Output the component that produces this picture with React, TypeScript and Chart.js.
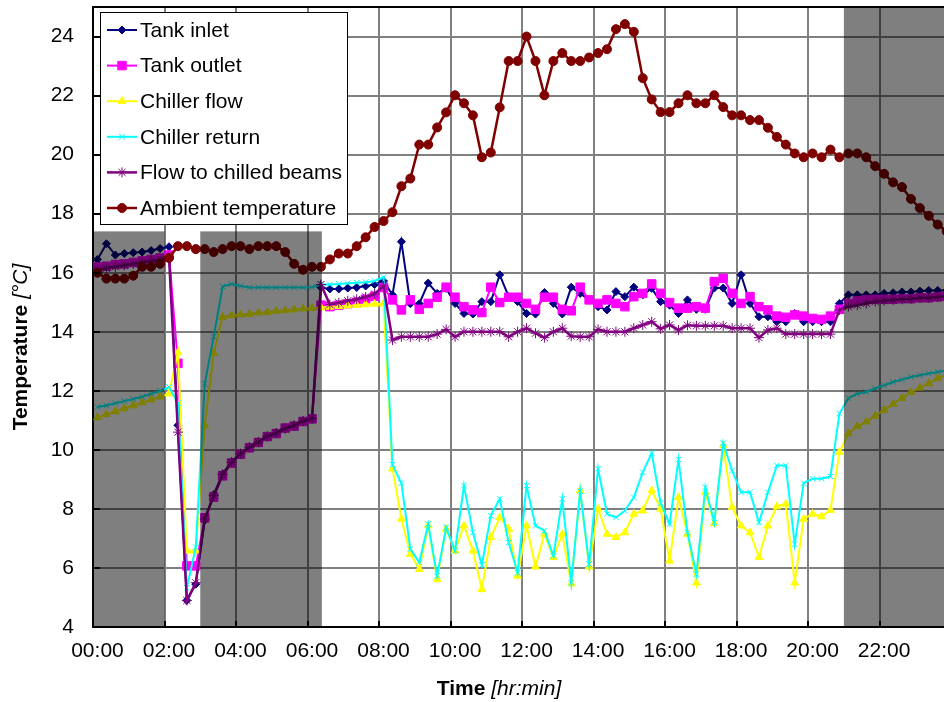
import { useEffect, useRef } from 'react';
import { Chart, registerables } from 'chart.js';
import { drawPoint } from 'chart.js/helpers';

Chart.register(...registerables);

// ---- axis labels / ticks ----
const hourLabels = ['00:00', '02:00', '04:00', '06:00', '08:00', '10:00', '12:00', '14:00', '16:00', '18:00', '20:00', '22:00'];
const gridHours = [0, 2, 4, 6, 8, 10, 12, 14, 16, 18, 20, 22];
const yTicks = [4, 6, 8, 10, 12, 14, 16, 18, 20, 22, 24];

// ---- series: one reading every 15 minutes, 00:00 .. 23:45 ----
const tankInlet = [
  16.45, 16.98, 16.6, 16.65, 16.68, 16.7, 16.75, 16.82, 16.88, 10.83, 4.9, 5.45,
  7.62, 8.48, 9.18, 9.6, 9.88, 10.1, 10.28, 10.46, 10.58, 10.72, 10.84, 10.97,
  11.04, 15.5, 15.45, 15.45, 15.48, 15.5, 15.55, 15.6, 15.72, 15.25, 17.05, 14.95,
  14.95, 15.65, 15.3, 15.47, 14.96, 14.62, 14.6, 15.02, 15.02, 15.93, 15.19, 15.02,
  14.62, 14.6, 15.33, 14.96, 14.6, 15.51, 15.3, 15.08, 14.85, 14.74, 15.36, 15.19,
  15.51, 15.25, 15.47, 15.02, 14.9, 14.62, 15.08, 14.76, 14.76, 15.48, 15.48, 14.96,
  15.93, 14.96, 14.51, 14.51, 14.34, 14.34, 14.62, 14.34, 14.34, 14.34, 14.34, 14.96,
  15.25, 15.25, 15.25, 15.25, 15.3, 15.32, 15.35, 15.35, 15.38, 15.4, 15.4, 15.4,
];
const tankOutlet = [
  16.2, 16.22, 16.28, 16.3, 16.35, 16.4, 16.45, 16.5, 16.6, 12.93, 6.07, 6.07,
  7.7, 8.4, 9.12, 9.55, 9.85, 10.07, 10.25, 10.45, 10.55, 10.74, 10.8, 10.96,
  11.05, 14.9, 14.85, 14.9, 14.95, 15.0, 15.1, 15.2, 15.5, 15.08, 14.74, 15.08,
  14.76, 14.96, 15.17, 15.51, 15.17, 14.85, 14.74, 14.65, 15.51, 14.99, 15.17, 15.17,
  14.96, 14.76, 15.17, 15.17, 14.76, 14.71, 15.51, 15.08, 14.96, 15.08, 14.96, 14.85,
  15.19, 15.3, 15.62, 15.3, 14.99, 14.8, 14.8, 14.85, 14.8, 15.7, 15.81, 15.3,
  14.96, 15.19, 14.85, 14.74, 14.53, 14.49, 14.57, 14.53, 14.45, 14.42, 14.53, 14.76,
  14.96, 15.05, 15.08, 15.1, 15.1, 15.1, 15.12, 15.12, 15.15, 15.15, 15.18, 15.2,
];
const chillerFlow = [
  11.1, 11.2, 11.3, 11.4, 11.5, 11.6, 11.7, 11.8, 11.9, 13.3, 6.58, 6.58,
  10.83, 13.27, 14.5, 14.55, 14.58, 14.6, 14.64, 14.66, 14.7, 14.72, 14.75, 14.78,
  14.8, 14.82, 14.84, 14.86, 14.88, 14.9, 14.92, 14.94, 14.95, 9.36, 7.66, 6.47,
  5.96, 7.43, 5.62, 7.32, 6.58, 7.43, 6.58, 5.28, 7.04, 7.71, 7.32, 5.73,
  7.43, 6.04, 7.15, 6.36, 7.15, 5.47, 8.62, 6.04, 8.0, 7.15, 7.04, 7.2,
  7.83, 7.94, 8.62, 8.0, 6.24, 8.39, 7.15, 5.5, 8.56, 7.51, 10.15, 8.06,
  7.43, 7.2, 6.36, 7.43, 8.08, 8.17, 5.5, 7.66, 7.83, 7.74, 7.96, 9.92,
  10.55, 10.8, 10.95, 11.15, 11.35, 11.55, 11.75, 11.95, 12.1, 12.25, 12.42, 12.55,
];
const chillerReturn = [
  11.45, 11.5, 11.58, 11.65, 11.72, 11.8, 11.9, 12.0, 12.13, 11.58, 5.33, 6.7,
  12.24, 13.83, 15.53, 15.62, 15.55, 15.5, 15.5, 15.5, 15.5, 15.5, 15.5, 15.5,
  15.51, 15.6, 15.6, 15.62, 15.64, 15.66, 15.68, 15.72, 15.85, 9.5, 8.87, 6.64,
  6.19, 7.49, 5.73, 7.37, 6.58, 8.79, 7.2, 6.1, 7.77, 8.34, 6.86, 5.84,
  8.79, 7.43, 7.26, 6.41, 8.34, 5.5, 8.6, 6.13, 9.36, 7.83, 7.71, 7.94,
  8.39, 9.24, 9.89, 8.2, 7.49, 9.67, 7.2, 5.79, 8.73, 7.54, 10.23, 9.3,
  8.56, 8.56, 7.54, 8.56, 9.47, 9.47, 6.81, 8.87, 9.02, 9.02, 9.1, 11.23,
  11.75, 11.9, 11.96, 12.08, 12.19, 12.3, 12.38, 12.47, 12.53, 12.59, 12.64, 12.68,
];
const flowToBeams = [
  16.1, 16.15, 16.2, 16.25, 16.3, 16.35, 16.4, 16.45, 16.55, 10.6, 4.9, 5.5,
  7.66, 8.45, 9.17, 9.58, 9.87, 10.09, 10.26, 10.46, 10.57, 10.72, 10.83, 10.98,
  11.06, 15.6, 14.92, 14.98, 15.05, 15.1, 15.18, 15.28, 15.55, 13.72, 13.83, 13.83,
  13.83, 13.83, 13.92, 14.08, 13.83, 14.0, 14.0, 14.0, 14.0, 14.0, 13.83, 14.0,
  14.12, 13.95, 13.8, 14.0, 14.12, 13.85, 13.83, 13.83, 14.08, 14.0, 14.0, 14.0,
  14.12, 14.23, 14.34, 14.1, 14.23, 14.06, 14.22, 14.2, 14.2, 14.2, 14.2, 14.12,
  14.12, 14.12, 13.8, 14.06, 14.12, 13.92, 13.92, 13.92, 13.92, 13.92, 13.92, 14.74,
  14.85, 14.9, 14.96, 15.02, 15.05, 15.08, 15.1, 15.12, 15.15, 15.15, 15.18, 15.2,
];
const ambient = [
  16.0, 15.8, 15.8, 15.8, 15.9, 16.2, 16.2, 16.3, 16.5, 16.9, 16.9, 16.8,
  16.8, 16.7, 16.8, 16.9, 16.9, 16.8, 16.9, 16.9, 16.9, 16.7, 16.3, 16.1,
  16.2, 16.2, 16.45, 16.65, 16.65, 16.9, 17.2, 17.55, 17.75, 18.05, 18.93, 19.19,
  20.34, 20.34, 20.92, 21.43, 22.01, 21.74, 21.33, 19.91, 20.07, 21.6, 23.17, 23.17,
  24.0, 23.17, 22.01, 23.17, 23.44, 23.17, 23.17, 23.29, 23.44, 23.57, 24.25, 24.42,
  24.16, 22.59, 21.87, 21.44, 21.44, 21.74, 22.01, 21.74, 21.74, 22.01, 21.61, 21.33,
  21.33, 21.17, 21.17, 20.91, 20.6, 20.34, 20.04, 19.91, 20.04, 19.91, 20.17, 19.91,
  20.04, 20.04, 19.91, 19.61, 19.35, 19.06, 18.9, 18.5, 18.19, 17.93, 17.63, 17.4,
];

const seriesNames = ['Tank inlet', 'Tank outlet', 'Chiller flow', 'Chiller return', 'Flow to chilled beams', 'Ambient temperature'];
const seriesValues = [tankInlet, tankOutlet, chillerFlow, chillerReturn, flowToBeams, ambient];

// shaded periods (hours) and their top (°C)
const shadeStartHour = [0, 3, 21];
const shadeEndHour = [2, 6.4, 24];
const shadeTopTemp = [17.4, 17.4, 25];

// ---- styles ----
const seriesStyles = [
  { color: '#000080', pointStyle: 'rectRot', radius: 4, lineWidth: 2 },
  { color: '#FF00FF', pointStyle: 'rect', radius: 6, lineWidth: 2 },
  { color: '#FFFF00', pointStyle: 'triangle', radius: 4.5, lineWidth: 2 },
  { color: '#00FFFF', pointStyle: 'crossRot', radius: 4, lineWidth: 2 },
  { color: '#800080', pointStyle: 'star', radius: 5, lineWidth: 2.5 },
  { color: '#800000', pointStyle: 'circle', radius: 4.5, lineWidth: 2.5 },
];

const FONT = '"Liberation Sans", Arial, sans-serif';
// slot value of an hour boundary (15-min slots, points centred in their slot)
const hourToSlot = (h: number) => h * 4 - 0.5;

export default function App() {
  const canvasRef = useRef<HTMLCanvasElement | null>(null);

  useEffect(() => {
    const canvas = canvasRef.current;
    if (!canvas) return;

    const decor = {
      id: 'decor',
      afterDatasetsDraw(chart: any) {
        const { ctx, chartArea, scales } = chart;
        const xs = scales.x;
        const ys = scales.y;
        ctx.save();
        ctx.beginPath();
        ctx.rect(chartArea.left, chartArea.top, chartArea.right - chartArea.left, chartArea.bottom - chartArea.top);
        ctx.clip();
        ctx.fillStyle = 'rgba(0,0,0,0.5)';
        shadeStartHour.forEach((h, k) => {
          const x0 = xs.getPixelForValue(hourToSlot(h));
          const x1 = xs.getPixelForValue(hourToSlot(shadeEndHour[k]));
          const y0 = ys.getPixelForValue(shadeTopTemp[k]);
          ctx.fillRect(x0, y0, x1 - x0, chartArea.bottom - y0);
        });
        ctx.restore();

        ctx.save();
        ctx.strokeStyle = '#000';
        ctx.lineWidth = 2;
        ctx.beginPath();
        gridHours.forEach((h) => {
          const px = Math.round(xs.getPixelForValue(hourToSlot(h)));
          ctx.moveTo(px, chartArea.bottom);
          ctx.lineTo(px, chartArea.bottom - 6);
        });
        yTicks.forEach((v) => {
          const py = Math.round(ys.getPixelForValue(v));
          ctx.moveTo(chartArea.left, py);
          ctx.lineTo(chartArea.left + 7, py);
        });
        ctx.moveTo(chartArea.left, chartArea.top);
        ctx.lineTo(chartArea.right, chartArea.top);
        ctx.stroke();
        ctx.restore();
      },
      afterDraw(chart: any) {
        const { ctx } = chart;
        // legend
        ctx.save();
        ctx.fillStyle = '#fff';
        ctx.fillRect(100, 12, 247, 212);
        ctx.strokeStyle = '#000';
        ctx.lineWidth = 1;
        ctx.strokeRect(100.5, 12.5, 247, 212);
        seriesNames.forEach((name, k) => {
          const st = seriesStyles[k];
          const yy = 30 + k * 35.6;
          ctx.strokeStyle = st.color;
          ctx.lineWidth = st.lineWidth;
          ctx.beginPath();
          ctx.moveTo(107, yy);
          ctx.lineTo(137, yy);
          ctx.stroke();
          ctx.fillStyle = st.color;
          ctx.strokeStyle = st.color;
          ctx.lineWidth = 1;
          drawPoint(ctx, { pointStyle: st.pointStyle as any, radius: st.radius, rotation: 0, borderWidth: 1 }, 122, yy);
          ctx.fillStyle = '#000';
          ctx.font = `21px ${FONT}`;
          ctx.textBaseline = 'middle';
          ctx.textAlign = 'left';
          ctx.fillText(name, 140, yy + 1);
        });
        ctx.restore();

        // axis titles (mixed bold / italic)
        const drawMixed = (cx: number, cy: number, rot: number, a: string, b: string) => {
          ctx.save();
          ctx.translate(cx, cy);
          ctx.rotate(rot);
          ctx.fillStyle = '#000';
          ctx.textBaseline = 'middle';
          ctx.textAlign = 'left';
          ctx.font = `bold 21px ${FONT}`;
          const wa = ctx.measureText(a).width;
          ctx.font = `italic 21px ${FONT}`;
          const wb = ctx.measureText(b).width;
          const start = -(wa + wb) / 2;
          ctx.font = `bold 21px ${FONT}`;
          ctx.fillText(a, start, 0);
          ctx.font = `italic 21px ${FONT}`;
          ctx.fillText(b, start + wa, 0);
          ctx.restore();
        };
        drawMixed(499, 689, 0, 'Time ', '[hr:min]');
        drawMixed(21, 347, -Math.PI / 2, 'Temperature ', '[°C]');
      },
    };

    const datasets = seriesValues.map((vals, k) => {
      const st = seriesStyles[k];
      return {
        label: seriesNames[k],
        data: vals.map((v, i) => ({ x: i, y: v })),
        borderColor: st.color,
        backgroundColor: st.color,
        borderWidth: st.lineWidth,
        pointStyle: st.pointStyle as any,
        pointRadius: st.radius,
        pointBorderWidth: 1,
        pointBackgroundColor: st.color,
        pointBorderColor: st.color,
        tension: 0,
        fill: false,
        order: seriesValues.length - k,
      };
    });

    const tickFont = { family: FONT, size: 21 };

    const chart = new Chart(canvas, {
      type: 'line',
      data: { datasets },
      options: {
        responsive: false,
        animation: false,
        events: [],
        layout: { autoPadding: false, padding: { top: 7, left: 0, right: 0, bottom: 0 } },
        plugins: { legend: { display: false }, tooltip: { enabled: false } },
        scales: {
          x: {
            type: 'linear',
            min: hourToSlot(0),
            max: hourToSlot(23.8),
            afterBuildTicks: (s: any) => {
              s.ticks = gridHours.map((h) => ({ value: hourToSlot(h) }));
            },
            afterFit: (s: any) => {
              s.height = 75;
              s.paddingLeft = 0;
              s.paddingRight = 0;
              s.paddingTop = 0;
              s.paddingBottom = 0;
            },
            ticks: {
              autoSkip: false,
              maxRotation: 0,
              minRotation: 0,
              padding: 12,
              labelOffset: 4.47,
              color: '#000',
              font: tickFont,
              callback: (_v: any, i: number) => hourLabels[i],
            },
            grid: { color: '#808080', lineWidth: 2, drawTicks: false },
            border: { display: true, color: '#000', width: 2 },
          },
          y: {
            type: 'linear',
            min: 4,
            max: 25,
            afterBuildTicks: (s: any) => {
              s.ticks = yTicks.map((v) => ({ value: v }));
            },
            afterFit: (s: any) => {
              s.width = 93;
              s.paddingLeft = 0;
              s.paddingRight = 0;
              s.paddingTop = 0;
              s.paddingBottom = 0;
            },
            ticks: { padding: 19, color: '#000', font: tickFont },
            grid: { color: '#808080', lineWidth: 2, drawTicks: false },
            border: { display: true, color: '#000', width: 2 },
          },
        },
      },
      plugins: [decor],
    });

    return () => {
      chart.destroy();
    };
  }, []);

  return (
    <div style={{ position: 'absolute', left: 0, top: 0, width: 944, height: 702, background: '#fff' }}>
      <canvas ref={canvasRef} width={944} height={702} style={{ display: 'block' }} />
    </div>
  );
}
